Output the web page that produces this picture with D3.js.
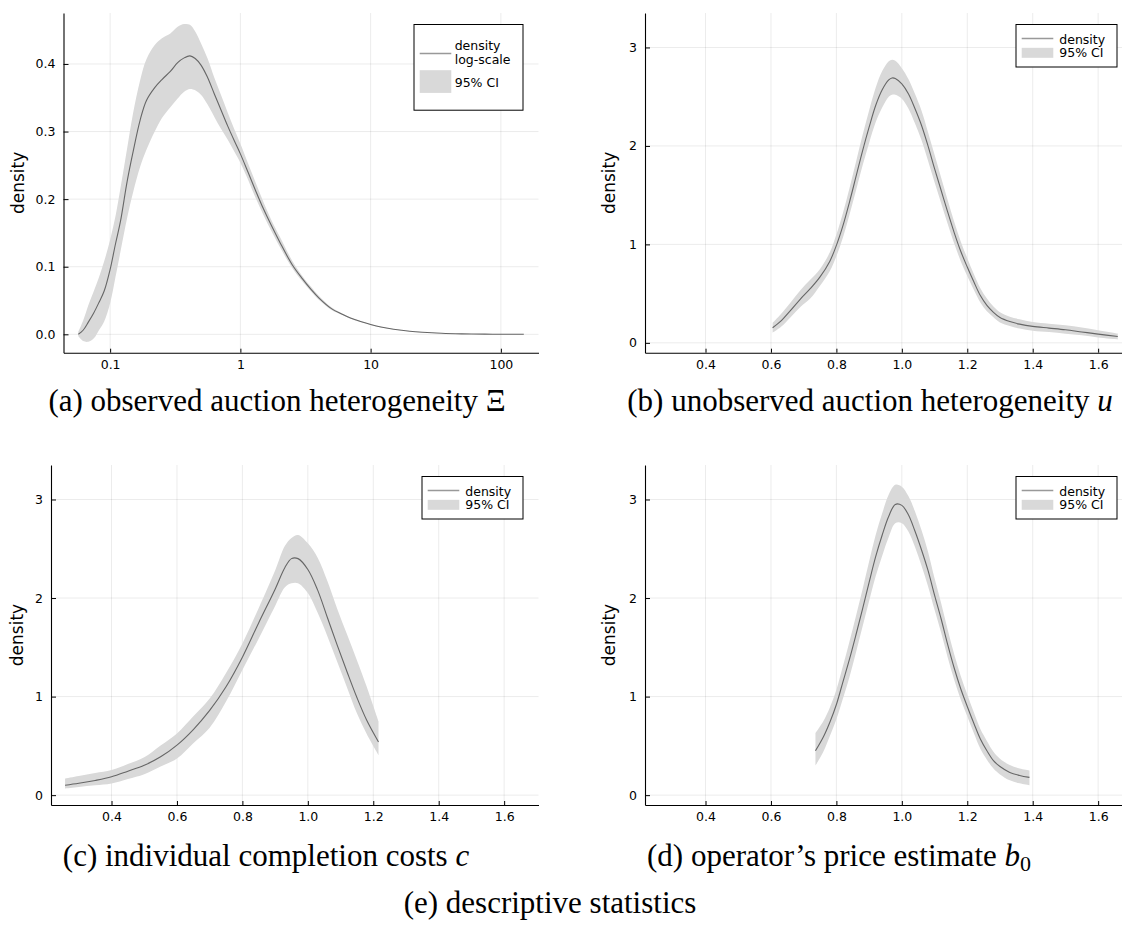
<!DOCTYPE html>
<html lang="en">
<head>
<meta charset="UTF-8">
<script src="https://d3js.org/d3.v7.min.js"></script>
<title>densities</title>
<style>
  body { margin: 0; background: #fff; }
  svg { display: block; }
</style>
</head>
<body>
<svg width="1122" height="935"></svg>
<script>
// (a) observed heterogeneity, log x
const aX   = [0.057, 0.062, 0.068, 0.075, 0.082, 0.09, 0.1, 0.11, 0.12, 0.135, 0.15, 0.17, 0.19, 0.22, 0.25, 0.29, 0.33, 0.37, 0.41, 0.45, 0.5, 0.56, 0.63, 0.71, 0.8, 0.9, 1.0, 1.15, 1.3, 1.5, 1.75, 2, 2.5, 3, 3.5, 4, 5, 6, 7, 8.5, 10, 12, 15, 20, 25, 35, 50, 75, 100, 150];
const aMid = [0, 0.006, 0.018, 0.032, 0.047, 0.064, 0.096, 0.134, 0.167, 0.226, 0.270, 0.317, 0.346, 0.365, 0.377, 0.389, 0.402, 0.409, 0.412, 0.408, 0.398, 0.38, 0.356, 0.332, 0.308, 0.286, 0.267, 0.239, 0.214, 0.186, 0.159, 0.137, 0.103, 0.082, 0.066, 0.054, 0.038, 0.030, 0.024, 0.0186, 0.0145, 0.0107, 0.0075, 0.0045, 0.003, 0.0015, 0.0007, 0.0003, 0.0001, 0];
const aHi  = [0.004, 0.02, 0.043, 0.064, 0.084, 0.108, 0.14, 0.175, 0.216, 0.275, 0.327, 0.376, 0.407, 0.428, 0.438, 0.445, 0.455, 0.459, 0.458, 0.448, 0.43, 0.408, 0.38, 0.354, 0.328, 0.303, 0.282, 0.252, 0.226, 0.196, 0.167, 0.145, 0.109, 0.086, 0.07, 0.057, 0.040, 0.031, 0.025, 0.0195, 0.0152, 0.0113, 0.008, 0.0048, 0.0032, 0.0016, 0.0008, 0.0003, 0.0001, 0];
const aLo  = [-0.003, -0.010, -0.011, -0.006, 0.006, 0.019, 0.046, 0.085, 0.122, 0.172, 0.21, 0.248, 0.273, 0.30, 0.32, 0.336, 0.349, 0.359, 0.363, 0.361, 0.354, 0.34, 0.322, 0.304, 0.288, 0.27, 0.254, 0.228, 0.203, 0.177, 0.151, 0.13, 0.098, 0.078, 0.063, 0.051, 0.036, 0.029, 0.023, 0.0177, 0.0138, 0.0101, 0.007, 0.0042, 0.0028, 0.0014, 0.0006, 0.0003, 0.0001, 0];

// (b) unobserved heterogeneity u
const bX   = [0.605, 0.63, 0.66, 0.69, 0.72, 0.75, 0.78, 0.8, 0.82, 0.84, 0.86, 0.88, 0.9, 0.92, 0.94, 0.96, 0.97, 0.98, 1.0, 1.02, 1.04, 1.06, 1.08, 1.1, 1.12, 1.14, 1.16, 1.18, 1.2, 1.22, 1.24, 1.26, 1.28, 1.3, 1.33, 1.36, 1.4, 1.45, 1.5, 1.55, 1.6, 1.66];
const bMid = [0.153, 0.22, 0.33, 0.445, 0.55, 0.67, 0.83, 0.99, 1.19, 1.43, 1.69, 1.95, 2.19, 2.41, 2.57, 2.67, 2.69, 2.685, 2.63, 2.53, 2.38, 2.21, 2.0, 1.77, 1.55, 1.33, 1.12, 0.93, 0.77, 0.62, 0.48, 0.38, 0.31, 0.257, 0.216, 0.19, 0.167, 0.15, 0.133, 0.111, 0.089, 0.065];
const bHi  = [0.203, 0.29, 0.41, 0.535, 0.64, 0.75, 0.92, 1.10, 1.32, 1.57, 1.84, 2.11, 2.36, 2.59, 2.76, 2.86, 2.875, 2.865, 2.79, 2.68, 2.53, 2.36, 2.14, 1.91, 1.68, 1.45, 1.23, 1.03, 0.86, 0.70, 0.555, 0.45, 0.37, 0.312, 0.266, 0.24, 0.212, 0.195, 0.178, 0.156, 0.129, 0.095];
const bLo  = [0.103, 0.16, 0.26, 0.365, 0.45, 0.58, 0.73, 0.88, 1.07, 1.30, 1.55, 1.80, 2.03, 2.24, 2.39, 2.50, 2.52, 2.52, 2.48, 2.38, 2.23, 2.06, 1.85, 1.63, 1.42, 1.21, 1.01, 0.83, 0.68, 0.54, 0.41, 0.32, 0.26, 0.207, 0.171, 0.145, 0.122, 0.11, 0.093, 0.076, 0.054, 0.035];

// (c) completion costs c
const cX   = [0.258, 0.3, 0.35, 0.4, 0.45, 0.5, 0.55, 0.6, 0.65, 0.7, 0.75, 0.8, 0.85, 0.9, 0.93, 0.95, 0.97, 1.0, 1.03, 1.06, 1.09, 1.12, 1.15, 1.18, 1.216];
const cMid = [0.1, 0.12, 0.149, 0.186, 0.243, 0.303, 0.389, 0.508, 0.666, 0.86, 1.10, 1.40, 1.75, 2.09, 2.31, 2.40, 2.40, 2.29, 2.08, 1.80, 1.52, 1.25, 0.99, 0.76, 0.54];
const cHi  = [0.169, 0.194, 0.224, 0.254, 0.316, 0.384, 0.503, 0.626, 0.80, 0.98, 1.24, 1.54, 1.90, 2.28, 2.53, 2.61, 2.64, 2.555, 2.41, 2.17, 1.89, 1.63, 1.37, 1.10, 0.75];
const cLo  = [0.068, 0.083, 0.1, 0.118, 0.163, 0.211, 0.29, 0.372, 0.527, 0.685, 0.95, 1.27, 1.59, 1.92, 2.11, 2.15, 2.15, 2.05, 1.85, 1.61, 1.35, 1.09, 0.83, 0.62, 0.406];

// (d) price estimate b0
const dX   = [0.736, 0.76, 0.78, 0.8, 0.82, 0.84, 0.86, 0.88, 0.9, 0.92, 0.94, 0.96, 0.98, 1.0, 1.02, 1.04, 1.06, 1.08, 1.1, 1.12, 1.14, 1.16, 1.18, 1.2, 1.22, 1.24, 1.26, 1.28, 1.3, 1.33, 1.36, 1.39];
const dMid = [0.45, 0.59, 0.74, 0.92, 1.15, 1.38, 1.63, 1.89, 2.16, 2.42, 2.64, 2.83, 2.95, 2.94, 2.845, 2.68, 2.49, 2.28, 2.03, 1.79, 1.53, 1.29, 1.08, 0.9, 0.73, 0.57, 0.45, 0.35, 0.29, 0.23, 0.2, 0.18];
const dHi  = [0.63, 0.75, 0.89, 1.07, 1.31, 1.56, 1.82, 2.09, 2.37, 2.64, 2.86, 3.05, 3.15, 3.13, 3.035, 2.88, 2.69, 2.47, 2.2, 1.95, 1.68, 1.43, 1.21, 1.02, 0.84, 0.67, 0.55, 0.44, 0.37, 0.305, 0.27, 0.25];
const dLo  = [0.3, 0.44, 0.6, 0.77, 0.98, 1.2, 1.45, 1.71, 1.97, 2.22, 2.43, 2.62, 2.76, 2.76, 2.675, 2.52, 2.33, 2.12, 1.88, 1.65, 1.4, 1.17, 0.97, 0.8, 0.63, 0.47, 0.36, 0.27, 0.21, 0.15, 0.12, 0.1];

// ticks
const xTicksLog = [0.1, 1, 10, 100];
const xTickLogLabels = ['0.1', '1', '10', '100'];
const xTicksLin = [0.4, 0.6, 0.8, 1.0, 1.2, 1.4, 1.6];
const yTicksA = [0, 0.1, 0.2, 0.3, 0.4];
const yTicksB = [0, 1, 2, 3];

const svg = d3.select('svg');
const lineColor = '#666';
const bandColor = '#d9d9d9';
const sans = '"DejaVu Sans", sans-serif';
const smooth = d3.curveCatmullRom.alpha(0.5);

function drawPanel(p) {
  const g = svg.append('g').attr('transform', `translate(${p.left},${p.top})`);
  const x = p.x.range([0, p.w]);
  const y = p.y.range([p.h, 0]);

  // grid
  g.append('g').selectAll('line').data(p.xTicks).join('line')
    .attr('x1', d => x(d)).attr('x2', d => x(d)).attr('y1', 0).attr('y2', p.h)
    .attr('stroke', '#000').attr('stroke-opacity', 0.1).attr('stroke-width', 0.8);
  g.append('g').selectAll('line').data(p.yTicks).join('line')
    .attr('y1', d => y(d)).attr('y2', d => y(d)).attr('x1', 0).attr('x2', p.w)
    .attr('stroke', '#000').attr('stroke-opacity', 0.1).attr('stroke-width', 0.8);

  const pts = p.xs.map((v, i) => ({ x: v, m: p.mid[i], lo: p.lo[i], hi: p.hi[i] }));
  g.append('path').datum(pts)
    .attr('d', d3.area().x(d => x(d.x)).y0(d => y(d.lo)).y1(d => y(d.hi)).curve(smooth))
    .attr('fill', bandColor);
  g.append('path').datum(pts)
    .attr('d', d3.line().x(d => x(d.x)).y(d => y(d.m)).curve(smooth))
    .attr('fill', 'none').attr('stroke', lineColor).attr('stroke-width', 1.1);

  // axes
  const xa = g.append('g').attr('transform', `translate(0,${p.h})`)
    .call(d3.axisBottom(x).tickValues(p.xTicks).tickFormat(p.xFmt)
      .tickSize(-4).tickSizeOuter(0).tickPadding(7));
  const ya = g.append('g')
    .call(d3.axisLeft(y).tickValues(p.yTicks).tickFormat(p.yFmt)
      .tickSize(-5).tickSizeOuter(0).tickPadding(8));
  [xa, ya].forEach(a => {
    a.select('.domain').attr('stroke', '#000').attr('stroke-width', 1.1);
    a.selectAll('.tick line').attr('stroke', '#000');
    a.selectAll('.tick text').attr('font-family', sans).attr('font-size', 12.5).attr('fill', '#000');
  });

  g.append('text')
    .attr('transform', `translate(${-p.ylabOff},${p.h / 2}) rotate(-90)`)
    .attr('text-anchor', 'middle')
    .attr('font-family', sans).attr('font-size', 17)
    .text('density');

  // legend
  const lg = g.append('g').attr('transform', `translate(${p.w - 15.5 - p.leg.w},11.5)`);
  lg.append('rect').attr('width', p.leg.w).attr('height', p.leg.h)
    .attr('fill', '#fff').attr('stroke', '#000').attr('stroke-width', 1);
  lg.append('line').attr('x1', 5.7).attr('x2', 37.3).attr('y1', p.leg.lineY).attr('y2', p.leg.lineY)
    .attr('stroke', '#999').attr('stroke-width', 1.3);
  lg.append('rect').attr('x', 5.7).attr('width', 31.6)
    .attr('y', p.leg.rectY).attr('height', p.leg.rectH).attr('fill', bandColor);
  p.leg.labels.forEach(l => {
    lg.append('text').attr('x', p.leg.textX).attr('y', l.y)
      .attr('font-family', sans).attr('font-size', 12.5).attr('fill', '#000').text(l.t);
  });
}

const linFmt = d3.format('.1f');
const smallLegend = {
  w: 101, h: 42.5, lineY: 14, rectY: 23.3, rectH: 10, textX: 43.3,
  labels: [{ t: 'density', y: 19 }, { t: '95% CI', y: 32.3 }]
};

drawPanel({
  left: 63.5, top: 13, w: 475, h: 339.7,
  x: d3.scaleLog().domain([0.04385, 194.5]), y: d3.scaleLinear().domain([-0.0272, 0.4754]),
  xTicks: xTicksLog, xFmt: (d, i) => xTickLogLabels[i], yTicks: yTicksA, yFmt: d3.format('.1f'),
  xs: aX, mid: aMid, lo: aLo, hi: aHi, ylabOff: 40,
  leg: { w: 109, h: 85.7, lineY: 29, rectY: 45.7, rectH: 22.7, textX: 40.7,
    labels: [{ t: 'density', y: 25.7 }, { t: 'log-scale', y: 39.7 }, { t: '95% CI', y: 62.4 }] }
});
drawPanel({
  left: 645, top: 13, w: 487.5, h: 339.7,
  x: d3.scaleLinear().domain([0.215, 1.705]), y: d3.scaleLinear().domain([-0.1, 3.35]),
  xTicks: xTicksLin, xFmt: linFmt, yTicks: yTicksB, yFmt: d3.format('d'),
  xs: bX, mid: bMid, lo: bLo, hi: bHi, ylabOff: 30, leg: smallLegend
});
drawPanel({
  left: 51, top: 465, w: 487.5, h: 340,
  x: d3.scaleLinear().domain([0.215, 1.705]), y: d3.scaleLinear().domain([-0.1, 3.35]),
  xTicks: xTicksLin, xFmt: linFmt, yTicks: yTicksB, yFmt: d3.format('d'),
  xs: cX, mid: cMid, lo: cLo, hi: cHi, ylabOff: 28.5, leg: smallLegend
});
drawPanel({
  left: 645, top: 465, w: 487.5, h: 340,
  x: d3.scaleLinear().domain([0.215, 1.705]), y: d3.scaleLinear().domain([-0.1, 3.35]),
  xTicks: xTicksLin, xFmt: linFmt, yTicks: yTicksB, yFmt: d3.format('d'),
  xs: dX, mid: dMid, lo: dLo, hi: dHi, ylabOff: 30, leg: smallLegend
});

// captions
const serif = '"Liberation Serif", "Times New Roman", serif';
function caption(cx, cy, parts) {
  const t = svg.append('text').attr('x', cx).attr('y', cy).attr('text-anchor', 'middle')
    .attr('font-family', serif).attr('font-size', 31).attr('fill', '#000');
  parts.forEach(pt => {
    const s = t.append('tspan').text(pt.t);
    if (pt.it) s.attr('font-style', 'italic');
    if (pt.sub) s.attr('font-size', 22).attr('dy', 5);
  });
}
caption(277, 411, [{ t: '(a) observed auction heterogeneity Ξ' }]);
caption(870, 411, [{ t: '(b) unobserved auction heterogeneity ' }, { t: 'u', it: true }]);
caption(266, 866, [{ t: '(c) individual completion costs ' }, { t: 'c', it: true }]);
caption(839, 866, [{ t: '(d) operator’s price estimate ' }, { t: 'b', it: true }, { t: '0', sub: true }]);
caption(550, 913, [{ t: '(e) descriptive statistics' }]);
</script>
</body>
</html>
